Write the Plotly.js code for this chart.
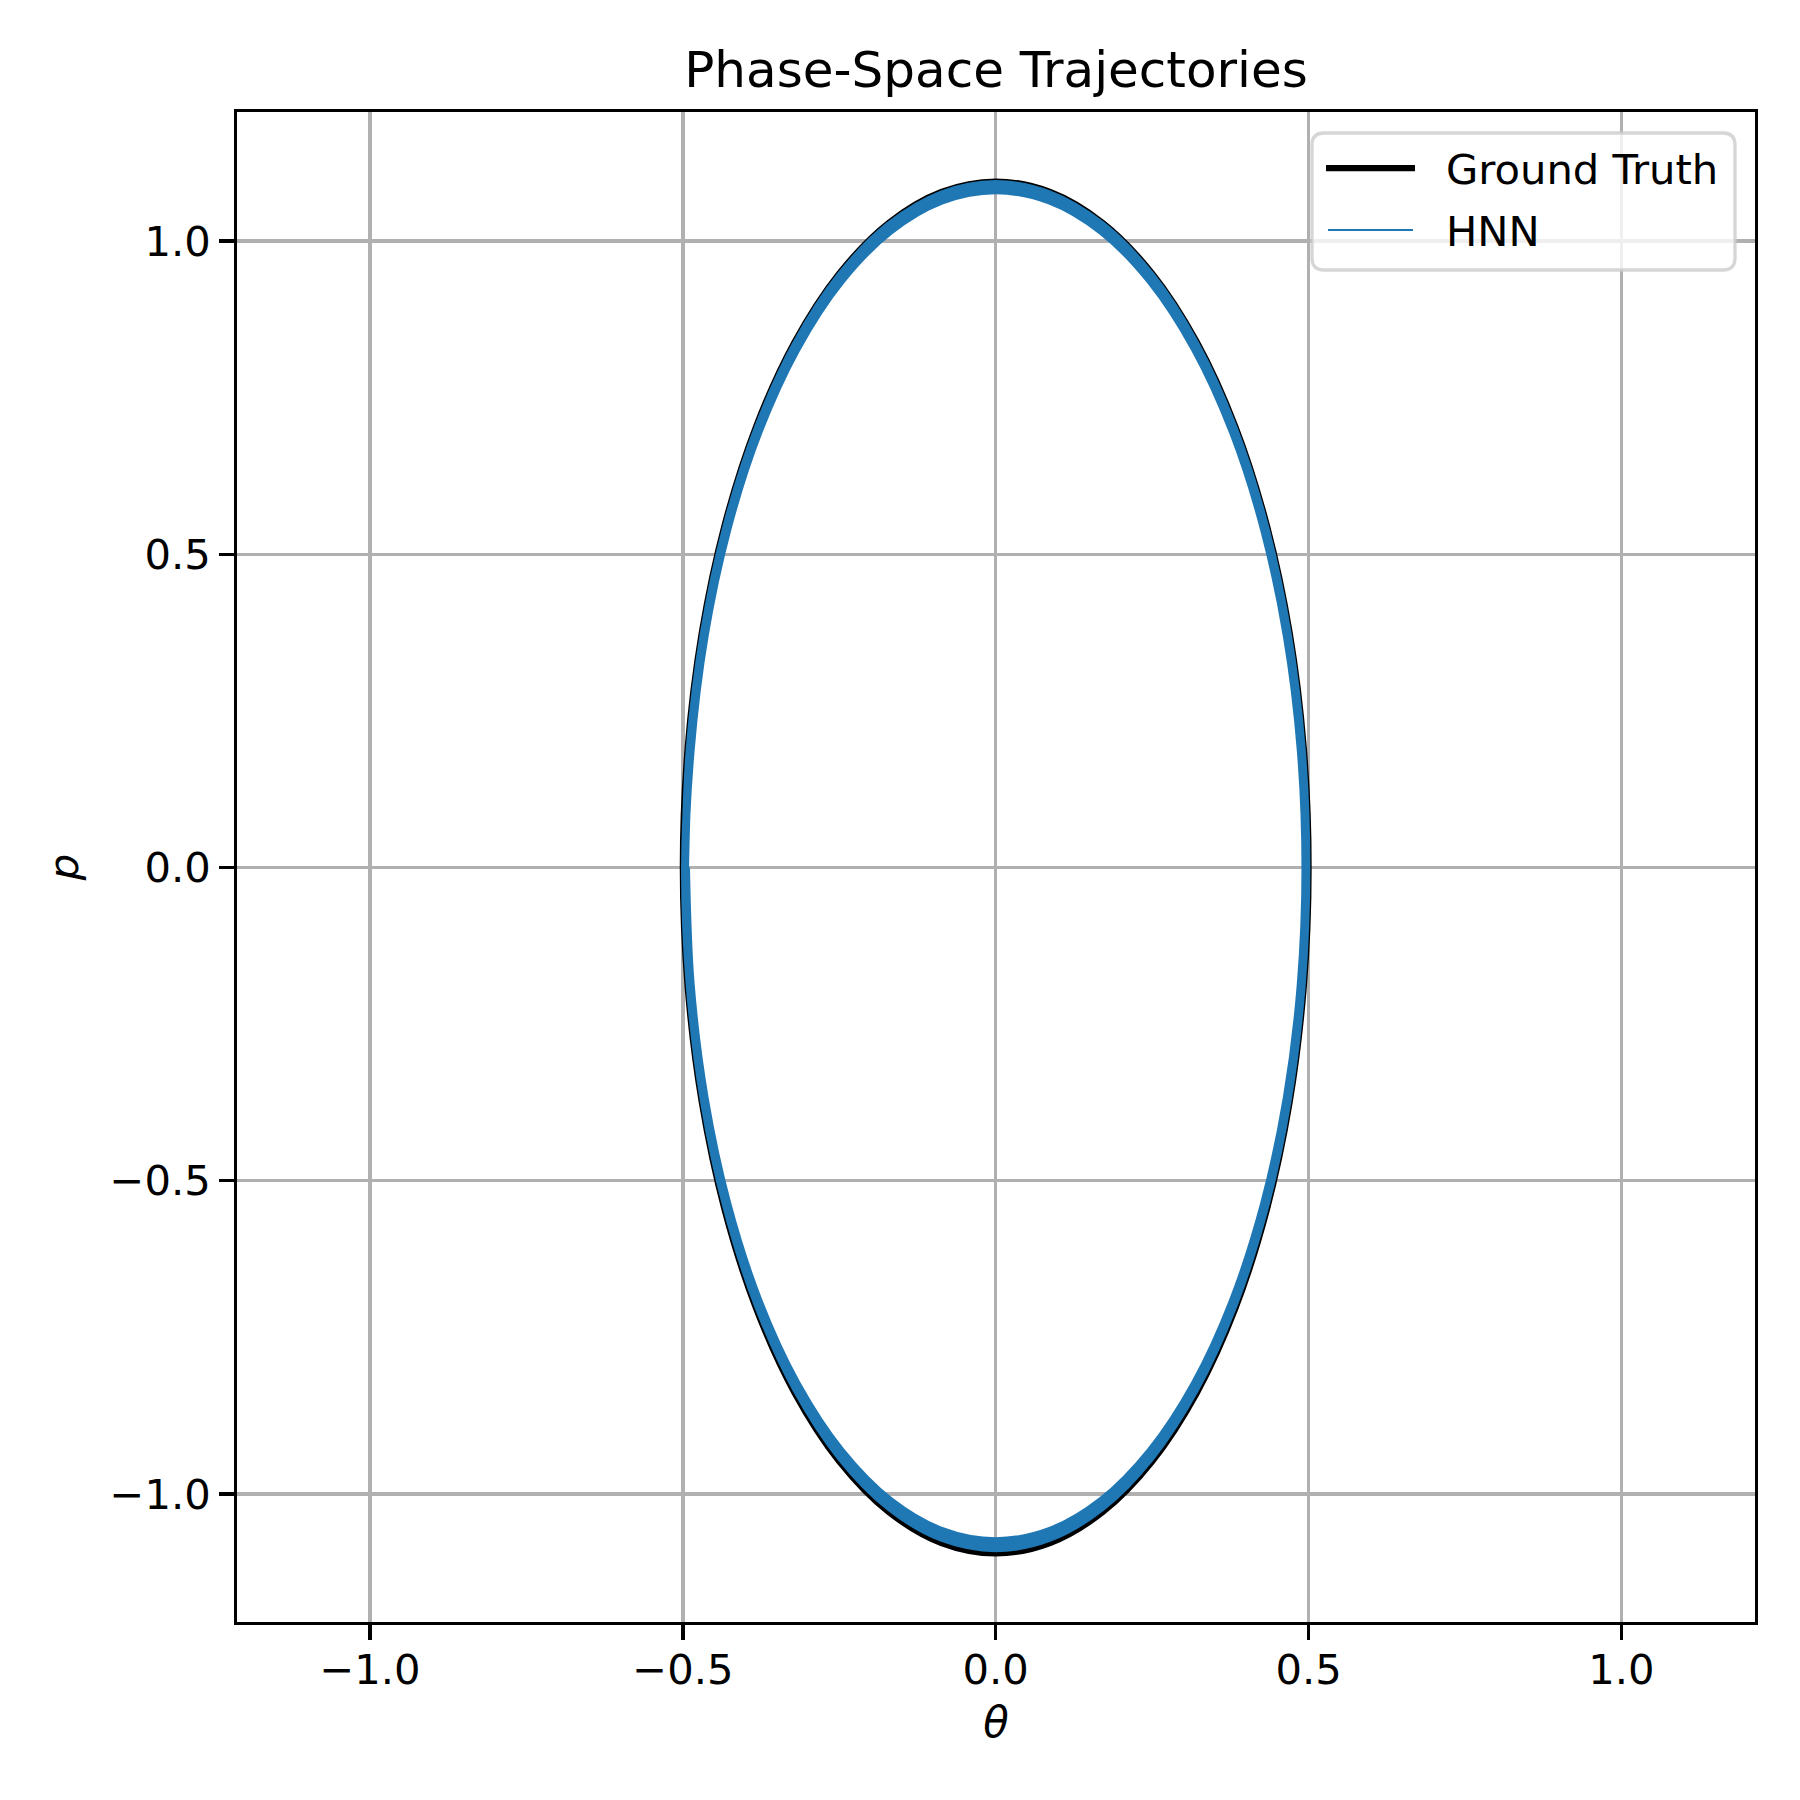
<!DOCTYPE html>
<html>
<head>
<meta charset="utf-8">
<script src="https://cdn.plot.ly/plotly-3.0.1.min.js"></script>
<style>
  html, body { margin: 0; padding: 0; background: #fff; }
  #chart { width: 1800px; height: 1800px; }
</style>
</head>
<body>
<div id="chart"></div>
<script>
// Ground truth orbit (theta, p)
const gtTheta = [0, 0.0868, 0.171, 0.25, 0.3214, 0.383, 0.433, 0.4698, 0.4924, 0.5,
  0.4924, 0.4698, 0.433, 0.383, 0.3214, 0.25, 0.171, 0.0868, 0,
  -0.0868, -0.171, -0.25, -0.3214, -0.383, -0.433, -0.4698, -0.4924, -0.5,
  -0.4924, -0.4698, -0.433, -0.383, -0.3214, -0.25, -0.171, -0.0868, 0];
const gtP = [1.095, 1.0784, 1.029, 0.9483, 0.8388, 0.7039, 0.5475, 0.3745, 0.1901, 0,
  -0.1901, -0.3745, -0.5475, -0.7039, -0.8388, -0.9483, -1.029, -1.0784, -1.095,
  -1.0784, -1.029, -0.9483, -0.8388, -0.7039, -0.5475, -0.3745, -0.1901, 0,
  0.1901, 0.3745, 0.5475, 0.7039, 0.8388, 0.9483, 1.029, 1.0784, 1.095];

// HNN rollout: two slowly shrinking passes round the orbit, starting at the left turning point
const hnnTheta = [-0.4965, -0.489, -0.4666, -0.43, -0.3803, -0.3191, -0.2483, -0.1698, -0.0862, 0,
  0.0862, 0.1698, 0.2483, 0.3191, 0.3803, 0.43, 0.4666, 0.489, 0.4965,
  0.489, 0.4666, 0.43, 0.3803, 0.3191, 0.2483, 0.1698, 0.0862, 0,
  -0.0862, -0.1698, -0.2483, -0.3191, -0.3803, -0.43, -0.4666, -0.489, -0.4965,
  -0.4875, -0.4652, -0.4287, -0.3792, -0.3182, -0.2475, -0.1693, -0.086, 0,
  0.086, 0.1693, 0.2475, 0.3182, 0.3792, 0.4287, 0.4652, 0.4875, 0.495,
  0.4875, 0.4652, 0.4287, 0.3792, 0.3182, 0.2475, 0.1693, 0.086, 0,
  -0.086, -0.1693, -0.2475, -0.3182, -0.3792, -0.4287, -0.4652, -0.4875, -0.495];
const hnnP = [0, 0.1895, 0.3731, 0.5455, 0.7013, 0.8358, 0.9448, 1.0252, 1.0744, 1.091,
  1.0744, 1.0252, 0.9448, 0.8358, 0.7013, 0.5455, 0.3731, 0.1895, 0,
  -0.1887, -0.3716, -0.5433, -0.6985, -0.8324, -0.941, -1.0211, -1.0701, -1.0866,
  -1.0701, -1.0211, -0.941, -0.8324, -0.6985, -0.5433, -0.3716, -0.1887, 0,
  0.1877, 0.3697, 0.5405, 0.6949, 0.828, 0.9362, 1.0158, 1.0646, 1.081,
  1.0646, 1.0158, 0.9362, 0.828, 0.6949, 0.5405, 0.3697, 0.1877, 0,
  -0.1868, -0.3678, -0.5378, -0.6914, -0.8239, -0.9314, -1.0107, -1.0592, -1.0755,
  -1.0592, -1.0107, -0.9314, -0.8239, -0.6914, -0.5378, -0.3678, -0.1868, 0];

const tickVals = [-1, -0.5, 0, 0.5, 1];
const tickText = ['\u22121.0', '\u22120.5', '0.0', '0.5', '1.0'];
const seriesNames = ['Ground Truth', 'HNN'];
const seriesColors = ['#000000', '#1f77b4'];

const W = 1800, H = 1800;
const M = { l: 237, r: 45, t: 112, b: 178 };
const plotW = W - M.l - M.r, plotH = H - M.t - M.b;
// pixel -> paper helpers for the hand-made legend box
const px = x => (x - M.l) / plotW;
const py = y => 1 - (y - M.t) / plotH;

const FONT = 'DejaVu Sans, Liberation Sans, sans-serif';

const traces = [
  {
    x: gtTheta, y: gtP, type: 'scatter', mode: 'lines',
    name: seriesNames[0],
    line: { color: seriesColors[0], width: 6.25, shape: 'spline', smoothing: 1 },
    showlegend: false, hoverinfo: 'skip'
  },
  {
    x: hnnTheta, y: hnnP, type: 'scatter', mode: 'lines',
    name: seriesNames[1],
    line: { color: seriesColors[1], width: 8, shape: 'spline', smoothing: 1 },
    showlegend: false, hoverinfo: 'skip'
  }
];

// legend box (matplotlib style, rounded corners)
const L = { x0: 1312, x1: 1735, y0: 133, y1: 270, r: 12 };
function roundedBox(b) {
  const rx = b.r;
  return 'M ' + px(b.x0 + rx) + ' ' + py(b.y0) +
    ' L ' + px(b.x1 - rx) + ' ' + py(b.y0) +
    ' Q ' + px(b.x1) + ' ' + py(b.y0) + ' ' + px(b.x1) + ' ' + py(b.y0 + rx) +
    ' L ' + px(b.x1) + ' ' + py(b.y1 - rx) +
    ' Q ' + px(b.x1) + ' ' + py(b.y1) + ' ' + px(b.x1 - rx) + ' ' + py(b.y1) +
    ' L ' + px(b.x0 + rx) + ' ' + py(b.y1) +
    ' Q ' + px(b.x0) + ' ' + py(b.y1) + ' ' + px(b.x0) + ' ' + py(b.y1 - rx) +
    ' L ' + px(b.x0) + ' ' + py(b.y0 + rx) +
    ' Q ' + px(b.x0) + ' ' + py(b.y0) + ' ' + px(b.x0 + rx) + ' ' + py(b.y0) + ' Z';
}

const legendRows = [
  { y: 168, width: 6.25, x0: 1326, x1: 1415 },
  { y: 230, width: 2.1, x0: 1328, x1: 1413 }
];

const shapes = [
  {
    type: 'path', xref: 'paper', yref: 'paper', layer: 'above',
    path: roundedBox(L),
    fillcolor: 'rgba(255,255,255,0.8)',
    line: { color: 'rgba(204,204,204,0.8)', width: 3.3 }
  }
];
const annotations = [];
legendRows.forEach((r, i) => {
  shapes.push({
    type: 'line', xref: 'paper', yref: 'paper', layer: 'above',
    x0: px(r.x0), x1: px(r.x1), y0: py(r.y), y1: py(r.y),
    line: { color: seriesColors[i], width: r.width }
  });
  annotations.push({
    xref: 'paper', yref: 'paper', x: px(1444), y: py(r.y + 1.5),
    xanchor: 'left', yanchor: 'middle', showarrow: false,
    text: seriesNames[i],
    font: { family: FONT, size: 41.7, color: '#000' }
  });
});

const axisCommon = {
  tickmode: 'array', tickvals: tickVals, ticktext: tickText,
  ticks: 'outside', ticklen: 14.6, tickwidth: 3.3, tickcolor: '#000',
  tickfont: { family: FONT, size: 41.7, color: '#000' },
  showgrid: true, gridcolor: '#b0b0b0', gridwidth: 3.3,
  zeroline: false,
  showline: true, mirror: true, linecolor: '#000', linewidth: 3.3,
  fixedrange: true
};

const layout = {
  width: W, height: H,
  margin: M,
  paper_bgcolor: '#fff', plot_bgcolor: '#fff',
  showlegend: false,
  title: {
    text: 'Phase-Space Trajectories',
    font: { family: FONT, size: 50, color: '#000' },
    x: 0.5, xref: 'paper', xanchor: 'center',
    y: 1 - 69 / H, yref: 'container', yanchor: 'middle'
  },
  xaxis: Object.assign({}, axisCommon, {
    range: [-1.2126, 1.2135],
    ticklabelstandoff: -6,
    title: { text: '<i>θ</i>', font: { family: FONT, size: 41.7, color: '#000' }, standoff: 16 }
  }),
  yaxis: Object.assign({}, axisCommon, {
    range: [-1.2045, 1.206],
    title: { text: '<i>p</i>', font: { family: FONT, size: 41.7, color: '#000' }, standoff: 19 }
  }),
  shapes: shapes,
  annotations: annotations
};

Plotly.newPlot('chart', traces, layout, { staticPlot: true, displayModeBar: false });
</script>
</body>
</html>
